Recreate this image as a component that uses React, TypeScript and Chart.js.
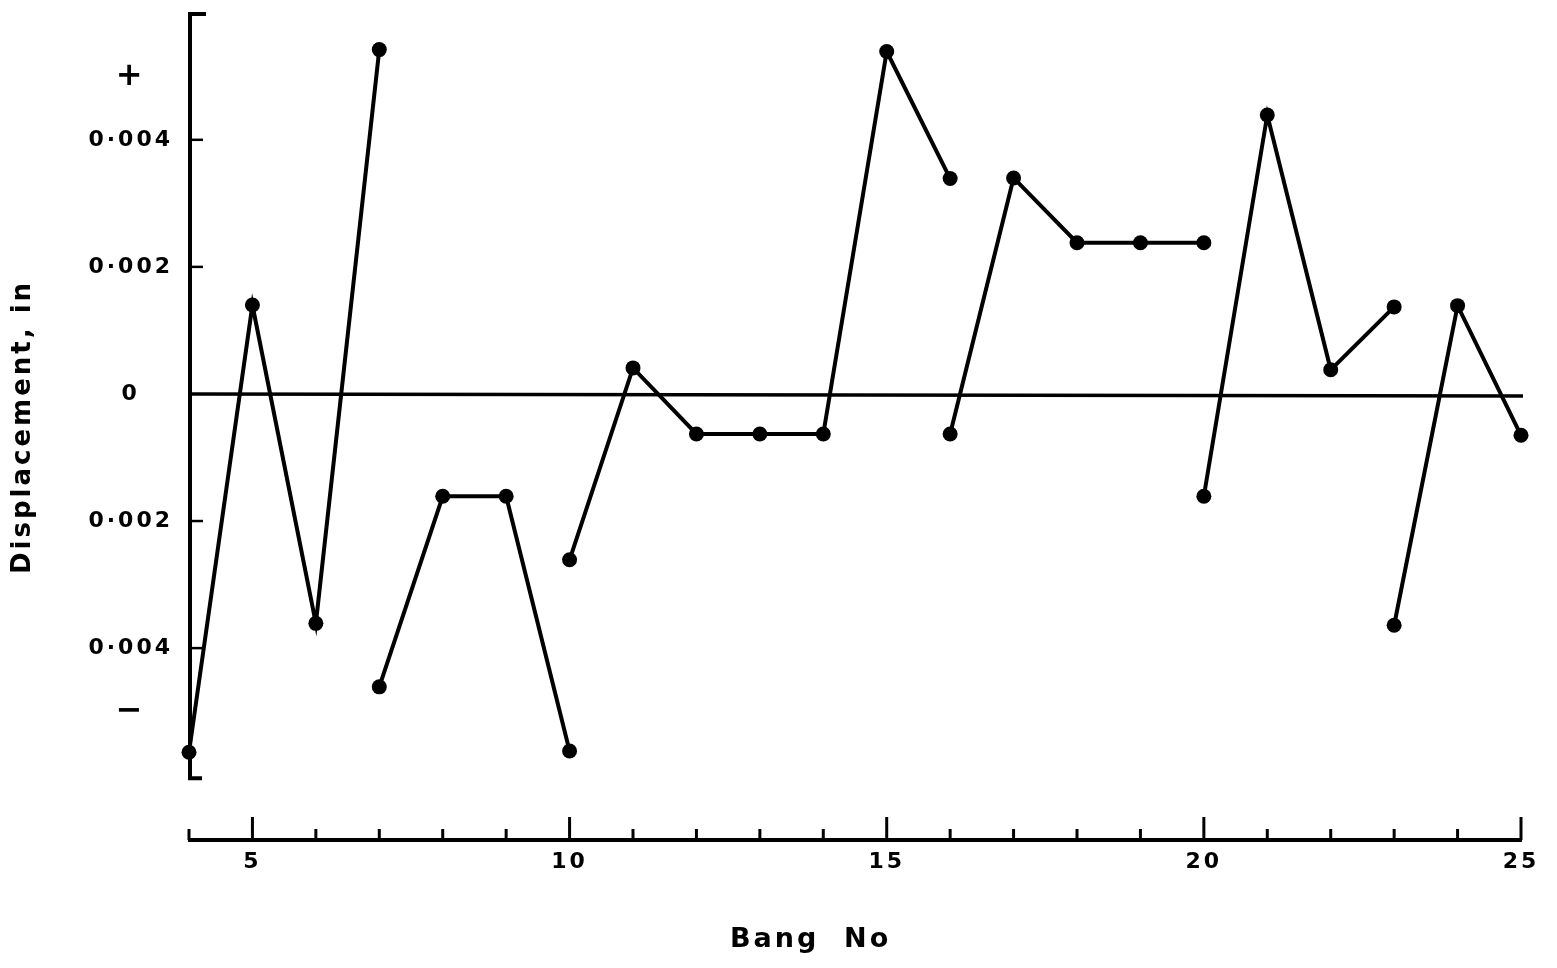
import React, { useEffect, useRef } from 'react';
import { Chart, registerables } from 'chart.js';

Chart.register(...registerables);

// ---- Data ----
const xTickValues = [4, 5, 6, 7, 8, 9, 10, 11, 12, 13, 14, 15, 16, 17, 18, 19, 20, 21, 22, 23, 24, 25];
const yTickValues = [0.005, 0.004, 0.002, 0, -0.002, -0.004, -0.005];
const yTickLabels = ['+', '0·004', '0·002', '0', '0·002', '0·004', '−'];
const yTickMarks = [0.004, 0.002, -0.002, -0.004];
const xTitle = 'Bang  No';
const yTitle = 'Displacement, in';

const run1Bang = [4, 5, 6, 7];
const run1Disp = [-0.00564, 0.0014, -0.00361, 0.00542];
const run2Bang = [7, 8, 9, 10];
const run2Disp = [-0.00461, -0.00161, -0.00161, -0.00562];
const run3Bang = [10, 11, 12, 13, 14, 15, 16];
const run3Disp = [-0.00261, 0.00041, -0.00063, -0.00063, -0.00063, 0.00539, 0.00339];
const run4Bang = [16, 17, 18, 19, 20];
const run4Disp = [-0.00063, 0.0034, 0.00238, 0.00238, 0.00238];
const run5Bang = [20, 21, 22, 23];
const run5Disp = [-0.00161, 0.00439, 0.00038, 0.00137];
const run6Bang = [23, 24, 25];
const run6Disp = [-0.00364, 0.00139, -0.00065];

const runs = [
  [run1Bang, run1Disp],
  [run2Bang, run2Disp],
  [run3Bang, run3Disp],
  [run4Bang, run4Disp],
  [run5Bang, run5Disp],
  [run6Bang, run6Disp],
];

// ---- Scale limits ----
const X_MIN = 4;
const X_MAX = 25;
const Y_MIN = -0.00702;
const Y_MAX = 0.00598;
const Y_AXIS_BOTTOM = -0.00605;
const X_TITLE_CENTER = 13.8; // the hand-lettered title sits a little left of centre

const FONT = 'DejaVu Sans';
const INK = '#000';
const SPACING = '3px';

const axesPlugin = {
  id: 'handAxes',
  beforeUpdate(chart: any) {
    chart.ctx.letterSpacing = SPACING;
  },
  beforeDraw(chart: any) {
    chart.ctx.letterSpacing = SPACING;
    const ctx = chart.ctx;
    ctx.save();
    ctx.fillStyle = '#fff';
    ctx.fillRect(0, 0, chart.width, chart.height);
    ctx.restore();
  },
  beforeDatasetsDraw(chart: any) {
    const ctx = chart.ctx;
    const xs = chart.scales.x;
    const ys = chart.scales.y;
    const left = xs.getPixelForValue(X_MIN) + 1;
    ctx.save();
    ctx.strokeStyle = INK;
    ctx.lineCap = 'butt';

    // y axis line with end serifs
    const yTop = ys.getPixelForValue(Y_MAX);
    const yBot = ys.getPixelForValue(Y_AXIS_BOTTOM);
    ctx.lineWidth = 4;
    ctx.beginPath();
    ctx.moveTo(left + 16, yTop);
    ctx.lineTo(left, yTop);
    ctx.lineTo(left, yBot);
    ctx.lineTo(left + 12, yBot);
    ctx.stroke();

    // y tick marks
    ctx.lineWidth = 2.5;
    yTickMarks.forEach((v) => {
      const py = ys.getPixelForValue(v);
      ctx.beginPath();
      ctx.moveTo(left, py);
      ctx.lineTo(left + 13, py);
      ctx.stroke();
    });

    // zero line
    const y0 = ys.getPixelForValue(0);
    ctx.lineWidth = 3.5;
    ctx.beginPath();
    ctx.moveTo(left, y0);
    ctx.lineTo(xs.getPixelForValue(X_MAX) + 2, y0 + 2);
    ctx.stroke();

    // x axis line with upward ticks
    const base = chart.chartArea.bottom;
    ctx.lineWidth = 4;
    ctx.beginPath();
    ctx.moveTo(xs.getPixelForValue(X_MIN) - 1, base);
    ctx.lineTo(xs.getPixelForValue(X_MAX) + 1, base);
    ctx.stroke();
    ctx.lineWidth = 3;
    xTickValues.forEach((v) => {
      const px = xs.getPixelForValue(v);
      const len = v % 5 === 0 ? 23 : 11;
      ctx.beginPath();
      ctx.moveTo(px, base);
      ctx.lineTo(px, base - len);
      ctx.stroke();
    });

    // x axis title
    ctx.fillStyle = INK;
    ctx.font = `bold 27px "${FONT}"`;
    ctx.textAlign = 'center';
    ctx.textBaseline = 'middle';
    ctx.fillText(xTitle, xs.getPixelForValue(X_TITLE_CENTER), base + 100);
    ctx.restore();
  },
};

export default function App() {
  const canvasRef = useRef<HTMLCanvasElement | null>(null);

  useEffect(() => {
    const canvas = canvasRef.current;
    if (!canvas) return;
    const datasets = runs.map(([bang, disp]) => ({
      data: bang.map((b, i) => ({ x: b, y: disp[i] })),
      borderColor: INK,
      backgroundColor: INK,
      borderWidth: 4,
      pointRadius: 7.5,
      pointBorderWidth: 0,
      pointBackgroundColor: INK,
      tension: 0,
      clip: false as any,
      showLine: true,
    }));

    const labelFor = (v: number) => {
      const i = yTickValues.findIndex((t) => Math.abs(t - v) < 1e-9);
      return i >= 0 ? yTickLabels[i] : '';
    };

    const chart = new Chart(canvas, {
      type: 'scatter',
      data: { datasets },
      options: {
        animation: false,
        responsive: false,
        devicePixelRatio: 1,
        events: [],
        layout: { padding: { top: 14, right: 36, bottom: 0, left: 0 } },
        plugins: {
          legend: { display: false },
          tooltip: { enabled: false },
        },
        scales: {
          x: {
            type: 'linear',
            min: X_MIN,
            max: X_MAX,
            afterBuildTicks: (s: any) => {
              s.ticks = xTickValues.map((v) => ({ value: v }));
            },
            afterFit: (s: any) => {
              s.height = 128;
              s.paddingLeft = 0;
              s.paddingRight = 0;
            },
            grid: { display: false, drawTicks: false },
            border: { display: false },
            ticks: {
              autoSkip: false,
              maxRotation: 0,
              padding: 9,
              color: INK,
              font: { family: FONT, size: 22, weight: 'bold' },
              callback: (v: any) => (Number(v) % 5 === 0 ? String(v) : ''),
            },
            title: { display: false },
          },
          y: {
            type: 'linear',
            min: Y_MIN,
            max: Y_MAX,
            afterBuildTicks: (s: any) => {
              s.ticks = yTickValues.map((v) => ({ value: v }));
            },
            afterFit: (s: any) => {
              s.width = 189;
              s.paddingTop = 0;
              s.paddingBottom = 0;
            },
            grid: { display: false, drawTicks: false },
            border: { display: false },
            ticks: {
              autoSkip: false,
              padding: 16,
              crossAlign: 'center',
              color: INK,
              font: (c: any) => {
                const lab = c.tick ? labelFor(c.tick.value) : '';
                const big = lab === '+' || lab === '−';
                return { family: FONT, size: big ? 32 : 22, weight: 'bold' };
              },
              callback: (v: any) => labelFor(Number(v)),
            },
            title: {
              display: true,
              text: yTitle,
              color: INK,
              font: { family: FONT, size: 26, weight: 'bold' },
              padding: { top: 8, bottom: 0 },
            },
          },
        },
      },
      plugins: [axesPlugin],
    } as any);

    return () => chart.destroy();
  }, []);

  return (
    <div style={{ position: 'fixed', left: 0, top: 0, width: 1557, height: 968, background: '#fff' }}>
      <canvas ref={canvasRef} width={1557} height={968} style={{ display: 'block' }} />
    </div>
  );
}
